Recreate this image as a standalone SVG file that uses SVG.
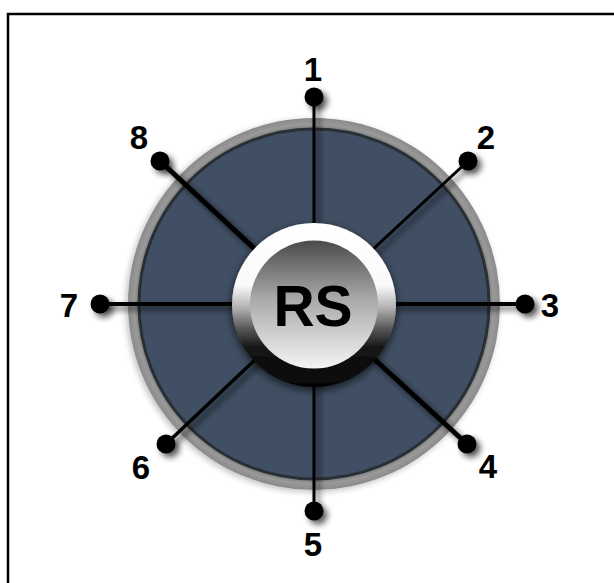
<svg xmlns="http://www.w3.org/2000/svg" width="614" height="583" viewBox="0 0 614 583">
  <defs>
    <filter id="shadow" x="-50%" y="-50%" width="200%" height="200%">
      <feGaussianBlur in="SourceAlpha" stdDeviation="3"/>
      <feOffset dx="4" dy="4" result="b"/>
      <feComponentTransfer><feFuncA type="linear" slope="0.65"/></feComponentTransfer>
      <feMerge><feMergeNode/><feMergeNode in="SourceGraphic"/></feMerge>
    </filter>
    <filter id="softshadow" x="-20%" y="-20%" width="140%" height="140%">
      <feGaussianBlur in="SourceAlpha" stdDeviation="3"/>
      <feOffset dx="-2" dy="2"/>
      <feComponentTransfer><feFuncA type="linear" slope="0.25"/></feComponentTransfer>
      <feMerge><feMergeNode/><feMergeNode in="SourceGraphic"/></feMerge>
    </filter>
    <filter id="btnshadow" x="-30%" y="-30%" width="160%" height="160%">
      <feGaussianBlur in="SourceAlpha" stdDeviation="4"/>
      <feOffset dx="0" dy="3"/>
      <feComponentTransfer><feFuncA type="linear" slope="0.7"/></feComponentTransfer>
      <feMerge><feMergeNode/><feMergeNode in="SourceGraphic"/></feMerge>
    </filter>
    <radialGradient id="ringGrad" cx="314" cy="304" r="186" gradientUnits="userSpaceOnUse">
      <stop offset="0.94" stop-color="#777777"/>
      <stop offset="0.965" stop-color="#9a9a9a"/>
      <stop offset="1" stop-color="#8a8a8a"/>
    </radialGradient>
    <linearGradient id="bezel" x1="0" y1="0" x2="0" y2="1">
      <stop offset="0" stop-color="#ffffff"/>
      <stop offset="0.38" stop-color="#fafafa"/>
      <stop offset="0.52" stop-color="#b0b0b0"/>
      <stop offset="0.64" stop-color="#5a5a5a"/>
      <stop offset="0.76" stop-color="#151515"/>
      <stop offset="1" stop-color="#050505"/>
    </linearGradient>
    <linearGradient id="face" x1="0" y1="0" x2="0" y2="1">
      <stop offset="0" stop-color="#4a4a4a"/>
      <stop offset="0.45" stop-color="#a8a8a8"/>
      <stop offset="1" stop-color="#f4f4f4"/>
    </linearGradient>
    <style>
      .spoke { stroke: #000; stroke-linecap: round; fill: none; }
      .ball { fill: #000; }
      .lbl { font-family: "Liberation Sans", Arial, sans-serif; font-weight: bold; font-size: 33px; fill: #000; text-anchor: middle; dominant-baseline: central; }
    </style>
  </defs>

  <rect x="8" y="14" width="700" height="700" fill="#fff" stroke="#000" stroke-width="2.5"/>

  <g id="disc" filter="url(#softshadow)">
    <circle cx="314" cy="304" r="186" fill="url(#ringGrad)"/>
    <circle cx="314" cy="304" r="175" fill="#3f5064" stroke="#2a2f36" stroke-width="3"/>
  </g>

  <g id="connectors" filter="url(#shadow)">
    <line class="spoke" x1="314" y1="97" x2="314" y2="304" stroke-width="3"/>
    <line class="spoke" x1="468" y1="161" x2="314" y2="304" stroke-width="3"/>
    <line class="spoke" x1="525" y1="304" x2="314" y2="304" stroke-width="4"/>
    <line class="spoke" x1="467" y1="444" x2="314" y2="304" stroke-width="5"/>
    <line class="spoke" x1="314" y1="511" x2="314" y2="304" stroke-width="3"/>
    <line class="spoke" x1="166" y1="444" x2="314" y2="304" stroke-width="3.5"/>
    <line class="spoke" x1="100" y1="304" x2="314" y2="304" stroke-width="4"/>
    <line class="spoke" x1="160" y1="161" x2="314" y2="304" stroke-width="5"/>
  </g>

  <g id="node-rs">
    <circle cx="314" cy="305" r="82" fill="url(#bezel)" filter="url(#btnshadow)"/>
    <circle cx="314" cy="304.5" r="64" fill="url(#face)"/>
    <text x="313" y="306" font-family="Liberation Sans, Arial, sans-serif" font-weight="bold" font-size="57" text-anchor="middle" dominant-baseline="central" fill="#000">RS</text>
  </g>

  <g id="node-1" filter="url(#shadow)"><circle class="ball" cx="314" cy="97" r="9.5"/></g>
  <g id="node-2" filter="url(#shadow)"><circle class="ball" cx="468" cy="161" r="9.5"/></g>
  <g id="node-3" filter="url(#shadow)"><circle class="ball" cx="525" cy="304" r="9.5"/></g>
  <g id="node-4" filter="url(#shadow)"><circle class="ball" cx="467" cy="444" r="9.5"/></g>
  <g id="node-5" filter="url(#shadow)"><circle class="ball" cx="314" cy="511" r="9.5"/></g>
  <g id="node-6" filter="url(#shadow)"><circle class="ball" cx="166" cy="444" r="9.5"/></g>
  <g id="node-7" filter="url(#shadow)"><circle class="ball" cx="100" cy="304" r="9.5"/></g>
  <g id="node-8" filter="url(#shadow)"><circle class="ball" cx="160" cy="161" r="9.5"/></g>

  <g id="labels">
    <text class="lbl" x="313" y="69">1</text>
    <text class="lbl" x="486" y="137">2</text>
    <text class="lbl" x="550" y="305">3</text>
    <text class="lbl" x="488" y="466">4</text>
    <text class="lbl" x="313" y="544">5</text>
    <text class="lbl" x="141" y="467">6</text>
    <text class="lbl" x="69" y="305">7</text>
    <text class="lbl" x="139" y="137">8</text>
  </g>
</svg>
